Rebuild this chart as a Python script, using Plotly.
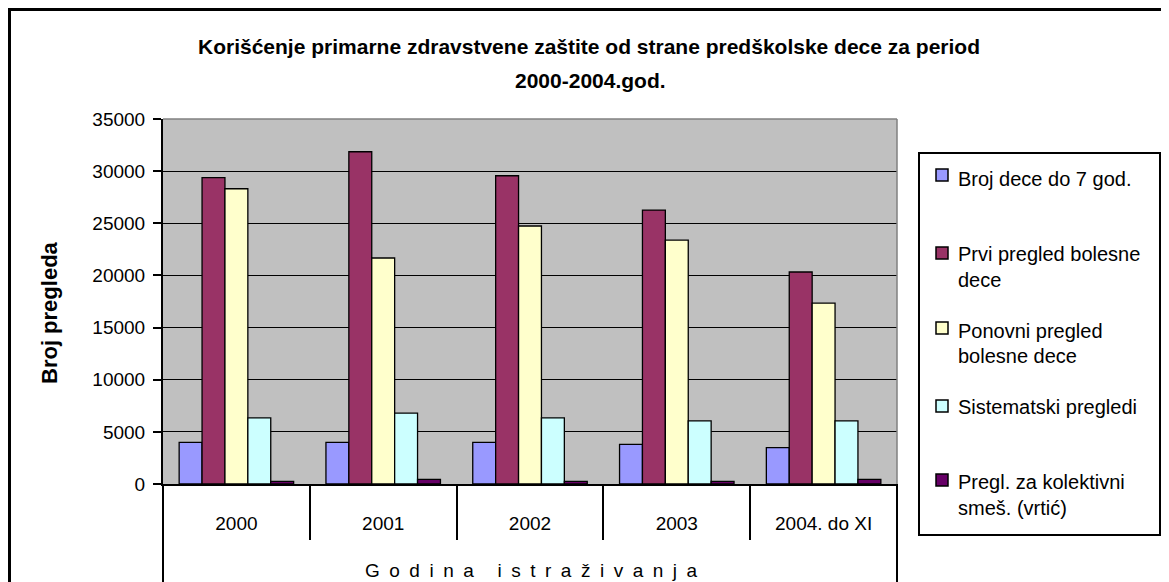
import plotly.graph_objects as go

# ---------------- data ----------------
categories = ["2000", "2001", "2002", "2003", "2004. do XI"]
series_names = [
    "Broj dece do 7 god.",
    "Prvi pregled bolesne dece",
    "Ponovni pregled bolesne dece",
    "Sistematski pregledi",
    "Pregl. za kolektivni smeš. (vrtić)",
]
broj_dece = [4000, 4000, 4000, 3800, 3480]
prvi_pregled = [29370, 31860, 29560, 26270, 20330]
ponovni_pregled = [28310, 21670, 24740, 23390, 17350]
sistematski = [6350, 6800, 6350, 6050, 6050]
kolektivni = [250, 450, 250, 250, 450]
series_values = [broj_dece, prvi_pregled, ponovni_pregled, sistematski, kolektivni]
colors = ["#9999FF", "#993366", "#FFFFCC", "#CCFFFF", "#660066"]
legend_lines = [
    ["Broj dece do 7 god."],
    ["Prvi pregled bolesne", "dece"],
    ["Ponovni pregled", "bolesne dece"],
    ["Sistematski pregledi"],
    ["Pregl. za kolektivni", "smeš. (vrtić)"],
]
y_ticks = [0, 5000, 10000, 15000, 20000, 25000, 30000, 35000]
title_line1 = "Korišćenje primarne zdravstvene zaštite od strane predškolske dece za period"
title_line2 = "2000-2004.god."
y_title = "Broj pregleda"
x_title_words = ["Godina", "istraživanja"]

# ---------------- layout geometry (window pixels) ----------------
OFF = 8  # the page body margin
W, H = 1169 - OFF, 582 - OFF
L, R, T, B = 163, 897, 119, 484          # plot area in window pixels
PW, PH = R - L, B - T


def px(x):
    return (x - L) / PW


def py(y):
    return (B - y) / PH


FONT = "Liberation Sans, Arial, sans-serif"

fig = go.Figure()
for name, vals, col in zip(series_names, series_values, colors):
    fig.add_trace(go.Bar(
        x=categories, y=vals, name=name,
        marker=dict(color=col, line=dict(color="black", width=1.3)),
        showlegend=False,
    ))

shapes = []
annotations = []

# plot-area border (gray top/right)
shapes.append(dict(type="line", xref="paper", yref="paper", x0=0, x1=1, y0=1, y1=1,
                   line=dict(color="#808080", width=1.5), layer="above"))
shapes.append(dict(type="line", xref="paper", yref="paper", x0=1, x1=1, y0=0, y1=1,
                   line=dict(color="#808080", width=1.5), layer="above"))
# category box vertical lines to bottom
for xx in (0, 1):
    shapes.append(dict(type="line", xref="paper", yref="paper", x0=xx, x1=xx,
                       y0=0, y1=py(590), line=dict(color="black", width=2)))
# outer frame (top band + left line)
shapes.append(dict(type="rect", xref="paper", yref="paper", x0=px(8), x1=px(1175),
                   y0=py(11), y1=py(7), fillcolor="black", line=dict(width=0)))
shapes.append(dict(type="rect", xref="paper", yref="paper", x0=px(8), x1=px(11),
                   y0=py(590), y1=py(7), fillcolor="black", line=dict(width=0)))

# legend box
shapes.append(dict(type="rect", xref="paper", yref="paper", x0=px(919), x1=px(1160),
                   y0=py(535), y1=py(153), line=dict(color="black", width=2),
                   fillcolor="white", layer="below"))
marker_y = [175, 253, 328, 406, 480]
text_y = [[179], [254, 280], [331, 356], [407], [482, 508]]
for col, my, lines, tys in zip(colors, marker_y, legend_lines, text_y):
    shapes.append(dict(type="rect", xref="paper", yref="paper", x0=px(936), x1=px(948),
                       y0=py(my + 6), y1=py(my - 6), fillcolor=col,
                       line=dict(color="black", width=1.5)))
    for ln, ty in zip(lines, tys):
        annotations.append(dict(text=ln, xref="paper", yref="paper", x=px(956), y=py(ty),
                                xanchor="left", yanchor="middle", showarrow=False,
                                font=dict(family=FONT, size=20, color="black")))

# titles
annotations.append(dict(text="<b>" + title_line1 + "</b>",
                        xref="paper", yref="paper", x=px(589), y=py(47), xanchor="center",
                        yanchor="middle", showarrow=False,
                        font=dict(family=FONT, size=21, color="black")))
annotations.append(dict(text="<b>" + title_line2 + "</b>",
                        xref="paper", yref="paper", x=px(590), y=py(80), xanchor="center",
                        yanchor="middle", showarrow=False,
                        font=dict(family=FONT, size=21, color="black")))
annotations.append(dict(text="<b>" + y_title + "</b>", xref="paper", yref="paper",
                        x=px(49), y=py(313), xanchor="center", yanchor="middle",
                        textangle=-90, showarrow=False,
                        font=dict(family=FONT, size=22, color="black")))
x_title = "\u2003\u2005".join("\u2002".join(w) for w in x_title_words)
annotations.append(dict(text=x_title, xref="paper", yref="paper",
                        x=px(531), y=py(570), xanchor="center", yanchor="middle",
                        showarrow=False, font=dict(family=FONT, size=19, color="black")))

fig.update_layout(
    width=W, height=H,
    margin=dict(l=L - OFF, r=(W + OFF) - R, t=T - OFF, b=(H + OFF) - B, pad=0),
    paper_bgcolor="white", plot_bgcolor="#C0C0C0",
    barmode="group", bargap=0.22, bargroupgap=0,
    font=dict(family=FONT, size=19, color="black"),
    shapes=shapes, annotations=annotations,
    showlegend=False,
)
fig.update_xaxes(
    type="category", showline=True, linecolor="black", linewidth=2,
    ticks="outside", tickson="boundaries", ticklen=54, tickwidth=1.5, tickcolor="black",
    ticklabelstandoff=21, tickfont=dict(family=FONT, size=19, color="black"),
    showgrid=False, zeroline=False, fixedrange=True,
)
fig.update_yaxes(
    range=[0, 35000], tickvals=y_ticks, ticktext=[str(v) for v in y_ticks],
    showline=True, linecolor="black", linewidth=2,
    ticks="outside", ticklen=8, tickwidth=1.5, tickcolor="black",
    ticklabelstandoff=4, tickfont=dict(family=FONT, size=19, color="black"),
    showgrid=True, gridcolor="black", gridwidth=1.2, zeroline=False, fixedrange=True,
)

fig.write_html("out.html")
